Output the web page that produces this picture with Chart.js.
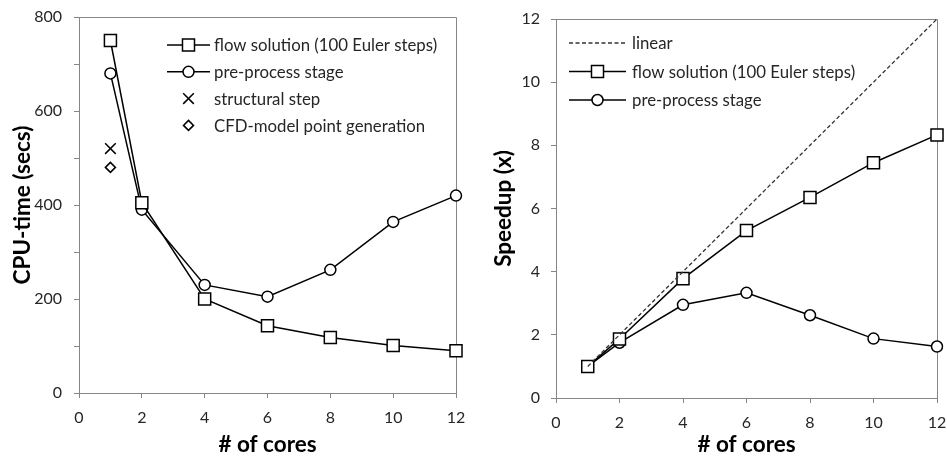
<!DOCTYPE html>
<html><head><meta charset="utf-8">
<script src="https://cdn.jsdelivr.net/npm/chart.js@4/dist/chart.umd.min.js"></script>
<style>
html,body{margin:0;padding:0;background:#fff;}
#wrap{position:relative;width:947px;height:456px;overflow:hidden;background:#fff;}
.c{position:absolute;top:0;height:456px;width:470px;}
</style></head><body>
<div id="wrap">
<div class="c" style="left:0"><canvas id="c1"></canvas></div>
<div class="c" style="left:477px"><canvas id="c2"></canvas></div>
</div>
<script>
// ---- data ----
const cores = [1, 2, 4, 6, 8, 10, 12];
const flowTime = [750, 405, 200, 143, 118, 101, 90];
const preTime = [680, 390, 230, 205, 262, 364, 420];
const singleCore = [1];
const structTime = [520];
const cfdTime = [480];
const linearSpeedup = [1, 2, 4, 6, 8, 10, 12];
const flowSpeedup = [1, 1.87, 3.78, 5.3, 6.35, 7.45, 8.33];
const preSpeedup = [1, 1.75, 2.95, 3.33, 2.62, 1.88, 1.63];
const xTickValues = [0, 2, 4, 6, 8, 10, 12];
const timeTickValues = [0, 200, 400, 600, 800];
const speedTickValues = [0, 2, 4, 6, 8, 10, 12];
const labelFlow = 'flow solution (100 Euler steps)';
const labelPre = 'pre-process stage';
const labelStruct = 'structural step';
const labelCfd = 'CFD-model point generation';
const labelLinear = 'linear';
const xTitle = '# of cores';
const yTitleTime = 'CPU-time (secs)';
const yTitleSpeed = 'Speedup (x)';

const pts = (xs, ys) => xs.map((x, i) => ({x: x, y: ys[i]}));
const FONT = 'Lato, "Open Sans", sans-serif';
const AXIS = '#868686';
const TXT = '#262626';

function marker(ctx, style, r, x, y) {
  ctx.save();
  ctx.lineWidth = 1.5;
  ctx.strokeStyle = '#000';
  ctx.fillStyle = '#fff';
  ctx.beginPath();
  if (style === 'rect') {
    const s = r * Math.SQRT1_2;
    ctx.rect(x - s, y - s, 2 * s, 2 * s);
    ctx.fill(); ctx.stroke();
  } else if (style === 'circle') {
    ctx.arc(x, y, r, 0, Math.PI * 2);
    ctx.fill(); ctx.stroke();
  } else if (style === 'crossRot') {
    const s = r * Math.SQRT1_2;
    ctx.moveTo(x - s, y - s); ctx.lineTo(x + s, y + s);
    ctx.moveTo(x - s, y + s); ctx.lineTo(x + s, y - s);
    ctx.stroke();
  } else if (style === 'rectRot') {
    ctx.moveTo(x, y - r); ctx.lineTo(x + r, y); ctx.lineTo(x, y + r); ctx.lineTo(x - r, y); ctx.closePath();
    ctx.fill(); ctx.stroke();
  }
  ctx.restore();
}

const insideLegend = {
  id: 'insideLegend',
  afterDraw(chart, args, opts) {
    const ctx = chart.ctx;
    ctx.save();
    ctx.font = opts.font;
    ctx.fillStyle = TXT;
    ctx.textBaseline = 'middle';
    chart.data.datasets.forEach((ds, i) => {
      const y = opts.y + i * opts.gap;
      if (ds.showLine) {
        ctx.save();
        ctx.strokeStyle = ds.borderColor;
        ctx.lineWidth = ds.borderWidth;
        ctx.setLineDash(ds.borderDash || []);
        ctx.beginPath();
        ctx.moveTo(opts.x1, y); ctx.lineTo(opts.x2, y);
        ctx.stroke();
        ctx.restore();
      }
      if (ds.pointRadius > 0) marker(ctx, ds.pointStyle, ds.pointRadius, (opts.x1 + opts.x2) / 2, y);
      ctx.fillText(ds.label, opts.tx, y + 1);
    });
    ctx.restore();
  }
};

const frame = {
  id: 'frame',
  beforeDatasetsDraw(chart) {
    const {ctx, chartArea: a} = chart;
    ctx.save();
    ctx.strokeStyle = AXIS;
    ctx.lineWidth = 1;
    ctx.beginPath();
    ctx.moveTo(a.left, a.top + 0.5); ctx.lineTo(a.right + 0.5, a.top + 0.5); ctx.lineTo(a.right + 0.5, a.bottom);
    ctx.stroke();
    ctx.restore();
  }
};

function noPad(s) { s.paddingTop = 0; s.paddingBottom = 0; s.paddingLeft = 0; s.paddingRight = 0; }

function lineDs(label, xs, ys, style, r) {
  return {label: label, data: pts(xs, ys), showLine: true, borderColor: '#000', borderWidth: 1.5,
    pointStyle: style, pointRadius: r, pointHoverRadius: r, pointBorderWidth: 1.5,
    pointBorderColor: '#000', pointBackgroundColor: '#fff', clip: false, tension: 0};
}
function markDs(label, xs, ys, style, r) {
  return {label: label, data: pts(xs, ys), showLine: false, borderColor: '#000', borderWidth: 1.5,
    pointStyle: style, pointRadius: r, pointHoverRadius: r, pointBorderWidth: 1.5,
    pointBorderColor: '#000', pointBackgroundColor: '#fff', clip: false};
}

function xScale(h) {
  return {type: 'linear', min: 0, max: 12,
    afterFit: s => { s.height = h; noPad(s); },
    afterBuildTicks: s => { s.ticks = xTickValues.map(v => ({value: v})); },
    ticks: {color: TXT, font: {family: FONT, size: 16}, padding: 10, maxRotation: 0},
    grid: {display: true, drawOnChartArea: false, drawTicks: true, tickLength: 5, color: AXIS},
    border: {display: true, color: AXIS, width: 1},
    title: {display: true, text: xTitle, color: '#000', font: {family: FONT, size: 22.5, weight: 'bold'}, padding: {top: 0, bottom: -2.5}}};
}
function yScale(max, step, labelled, titleText, titlePad, tickPad) {
  return {type: 'linear', min: 0, max: max,
    afterFit: s => { s.width = 79; noPad(s); },
    ticks: {stepSize: step, color: TXT, font: {family: FONT, size: 16}, padding: tickPad,
      callback: v => (labelled.includes(v) ? v : '')},
    grid: {display: true, drawOnChartArea: false, drawTicks: true, tickLength: 5, color: AXIS},
    border: {display: true, color: AXIS, width: 1},
    title: {display: true, text: titleText, color: '#000', font: {family: FONT, size: 22.5, weight: 'bold'}, padding: {top: titlePad, bottom: 0}}};
}

const common = {responsive: true, maintainAspectRatio: false, animation: false,
  events: []};

new Chart(document.getElementById('c1'), {
  type: 'scatter',
  data: {datasets: [
    lineDs(labelFlow, cores, flowTime, 'rect', 8.5),
    lineDs(labelPre, cores, preTime, 'circle', 5.5),
    markDs(labelStruct, singleCore, structTime, 'crossRot', 7.5),
    markDs(labelCfd, singleCore, cfdTime, 'rectRot', 5)
  ]},
  options: Object.assign({}, common, {
    layout: {padding: {left: 0, top: 17, right: 14, bottom: 0}},
    scales: {x: xScale(63), y: yScale(800, 100, timeTickValues, yTitleTime, 9, 12)},
    plugins: {legend: {display: false}, tooltip: {enabled: false},
      insideLegend: {x1: 167, x2: 210, tx: 214, y: 45, gap: 26.8, font: '16.8px ' + FONT}}
  }),
  plugins: [frame, insideLegend]
});

const linDs = {label: labelLinear, data: pts(cores, linearSpeedup), showLine: true, borderColor: '#333',
  borderWidth: 1.3, borderDash: [4, 2.5], pointRadius: 0, pointHoverRadius: 0, clip: false};

new Chart(document.getElementById('c2'), {
  type: 'scatter',
  data: {datasets: [
    linDs,
    lineDs(labelFlow, cores, flowSpeedup, 'rect', 8.5),
    lineDs(labelPre, cores, preSpeedup, 'circle', 5.5)
  ]},
  options: Object.assign({}, common, {
    layout: {padding: {left: 0, top: 19, right: 8, bottom: 0}},
    scales: {x: xScale(58), y: yScale(12, 2, speedTickValues, yTitleSpeed, 13.5, 11)},
    plugins: {legend: {display: false}, tooltip: {enabled: false},
      insideLegend: {x1: 92, x2: 149, tx: 155, y: 43, gap: 28.5, font: '16.8px ' + FONT}}
  }),
  plugins: [frame, insideLegend]
});
</script>
</body></html>
